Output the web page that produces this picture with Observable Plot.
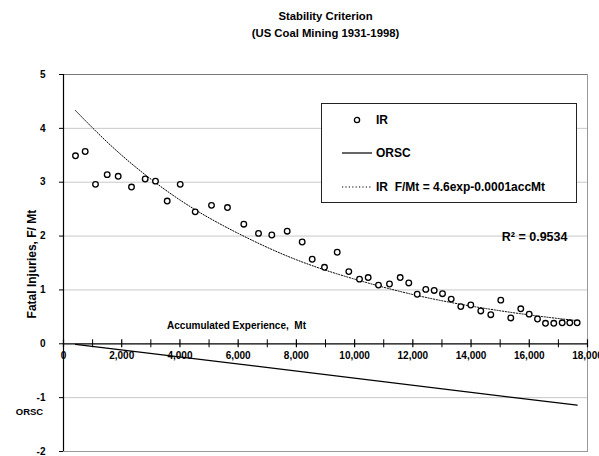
<!DOCTYPE html>
<html>
<head>
<meta charset="utf-8">
<script src="https://cdn.jsdelivr.net/npm/d3@7"></script>
<script src="https://cdn.jsdelivr.net/npm/@observablehq/plot@0.6"></script>
<style>
  body { margin: 0; background: #fff; }
  #wrap { position: relative; width: 599px; height: 456px; font-family: Arial, "Liberation Sans", sans-serif; }
  #legend { position: absolute; left: 321px; top: 103px; width: 254px; height: 98px; border: 1px solid #222; background: #fff; font-weight: bold; font-size: 12px; }
  #legend .item { position: absolute; left: 0; height: 14px; }
  #legend svg { position: absolute; left: 20px; top: 0; }
  #legend span { position: absolute; left: 54px; top: 0; white-space: pre; line-height: 14px; }
</style>
</head>
<body>
<div id="wrap"></div>
<script>
// Accumulated experience (Mt) and fatal injury rate (F/Mt)
const accMt = [412, 745, 1099, 1501, 1879, 2336, 2806, 3160, 3562, 4009, 4524, 5084, 5633, 6194, 6699, 7155, 7684, 8199, 8543, 8965, 9402, 9800, 10168, 10466, 10820, 11198, 11566, 11861, 12150, 12445, 12734, 13019, 13318, 13647, 13991, 14334, 14678, 15021, 15365, 15708, 15997, 16282, 16557, 16842, 17130, 17391, 17645];
const irRate = [3.49, 3.57, 2.96, 3.14, 3.11, 2.91, 3.06, 3.02, 2.65, 2.96, 2.45, 2.57, 2.53, 2.22, 2.05, 2.02, 2.09, 1.89, 1.57, 1.42, 1.70, 1.34, 1.20, 1.23, 1.09, 1.11, 1.23, 1.13, 0.92, 1.01, 0.99, 0.93, 0.83, 0.69, 0.72, 0.61, 0.54, 0.81, 0.48, 0.65, 0.55, 0.46, 0.38, 0.38, 0.39, 0.39, 0.39];

// Exponential trend line
const trendAcc = [412, 2000, 4000, 6000, 8000, 10000, 12000, 14000, 16000, 17645];
const trendRate = [4.33, 3.50, 2.67, 2.05, 1.56, 1.20, 0.915, 0.70, 0.536, 0.43];

// ORSC line
const orscAcc = [412, 17645];
const orscVal = [-0.01, -1.14];

// Axis ticks
const xMajor = [0, 2000, 4000, 6000, 8000, 10000, 12000, 14000, 16000, 18000];
const xMinor = [1000, 3000, 5000, 7000, 9000, 11000, 13000, 15000, 17000];
const yTicks = [-2, -1, 0, 1, 2, 3, 4, 5];
const yGrid = [-1, 1, 2, 3, 4];

const titleLines = ["Stability Criterion", "(US Coal Mining 1931-1998)"];
const yLabel = "Fatal Injuries, F/ Mt";
const xLabel = "Accumulated Experience,  Mt";
const orscLabel = "ORSC";
const r2Label = "R\u00B2 = 0.9534";
const legendLabels = ["IR", "ORSC", "IR  F/Mt = 4.6exp-0.0001accMt"];

const irData = accMt.map((x, i) => ({x, y: irRate[i]}));
const trendData = trendAcc.map((x, i) => ({x, y: trendRate[i]}));
const orscData = orscAcc.map((x, i) => ({x, y: orscVal[i]}));

const bold = {fontWeight: "bold", fontFamily: "Arial, 'Liberation Sans', sans-serif"};

const chart = Plot.plot({
  width: 599,
  height: 456,
  marginLeft: 63,
  marginRight: 12,
  marginTop: 74,
  marginBottom: 5,
  style: {fontFamily: "Arial, 'Liberation Sans', sans-serif", background: "#fff", overflow: "visible"},
  x: {domain: [0, 18000], axis: null},
  y: {domain: [-2, 5], axis: null},
  marks: [
    Plot.ruleY(yGrid, {stroke: "#c8c8c8", strokeWidth: 1}),
    Plot.frame({stroke: "#999", strokeWidth: 1}),
    Plot.ruleY([5], {stroke: "#777", strokeWidth: 1}),
    Plot.axisY({ticks: yTicks, tickSize: 4, tickPadding: 14, tickFormat: d => String(d), fontSize: 10, fontWeight: "bold", label: null, stroke: "#000"}),
    Plot.ruleX([0], {stroke: "#000", strokeWidth: 1.2}),
    Plot.ruleY([0], {stroke: "#000", strokeWidth: 1.2}),
    Plot.ruleX(xMajor, {x: d => d, y1: 0, y2: 0, insetTop: -4, insetBottom: -4, stroke: "#000", strokeWidth: 1.2}),
    Plot.ruleX(xMinor, {x: d => d, y1: 0, y2: 0, insetTop: -4, insetBottom: -4, stroke: "#000", strokeWidth: 1}),
    Plot.line(orscData, {x: "x", y: "y", stroke: "#000", strokeWidth: 1.2}),
    Plot.text(xMajor, {x: d => d, y: 0, dy: 12, text: d => d3.format(",")(d), fontSize: 10, ...bold, fill: "#000"}),
    Plot.line(trendData, {x: "x", y: "y", curve: "natural", stroke: "#000", strokeWidth: 1, strokeDasharray: "1.2,1.6"}),
    Plot.dot(irData, {x: "x", y: "y", r: 2.8, stroke: "#000", strokeWidth: 1.3, fill: "#fff"}),
    Plot.text([titleLines[0]], {frameAnchor: "top", lineAnchor: "middle", dy: -58, text: d => d, fontSize: 11.3, ...bold}),
    Plot.text([titleLines[1]], {frameAnchor: "top", lineAnchor: "middle", dy: -41, text: d => d, fontSize: 11.3, ...bold}),
    Plot.text([yLabel], {x: 0, y: 1.48, dx: -31, rotate: -90, text: d => d, fontSize: 12, ...bold}),
    Plot.text([orscLabel], {x: 0, y: -1.26, dx: -34, text: d => d, fontSize: 9.5, ...bold}),
    Plot.text([xLabel], {x: 5943, y: 0.33, text: d => d, fontSize: 10, ...bold}),
    Plot.text([r2Label], {x: 17312, y: 1.98, textAnchor: "end", text: d => d, fontSize: 12.5, ...bold})
  ]
});

const wrap = document.getElementById("wrap");
wrap.appendChild(chart);

// Legend
const legend = document.createElement("div");
legend.id = "legend";
const samples = [
  '<svg width="30" height="14"><circle cx="15" cy="7" r="2.6" fill="#fff" stroke="#000" stroke-width="1.3"/></svg>',
  '<svg width="30" height="14"><line x1="0" y1="7" x2="30" y2="7" stroke="#000" stroke-width="1.2"/></svg>',
  '<svg width="30" height="14"><line x1="0" y1="7" x2="30" y2="7" stroke="#000" stroke-width="1" stroke-dasharray="1.2,2.2"/></svg>'
];
const tops = [9, 42, 76];
legendLabels.forEach((lab, i) => {
  const item = document.createElement("div");
  item.className = "item";
  item.style.top = tops[i] + "px";
  item.style.width = "100%";
  item.innerHTML = samples[i] + '<span></span>';
  item.querySelector("span").textContent = lab;
  legend.appendChild(item);
});
wrap.appendChild(legend);
</script>
</body>
</html>
